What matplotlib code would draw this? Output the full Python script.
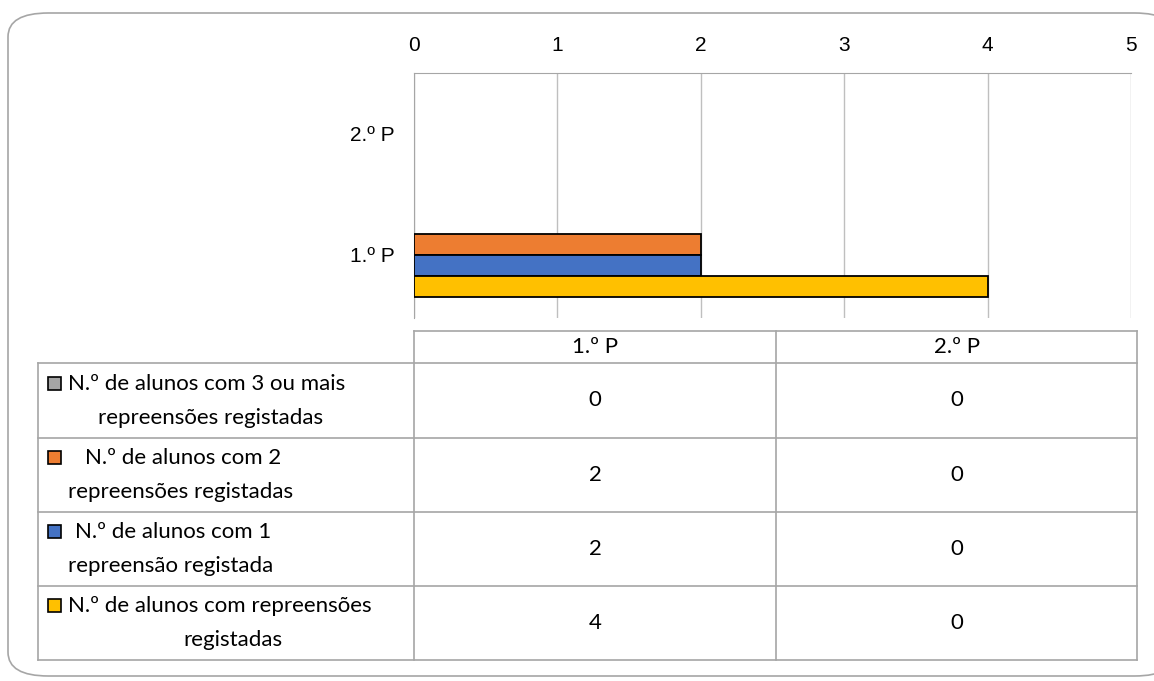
import matplotlib.pyplot as plt
from matplotlib.patches import FancyBboxPatch, Rectangle
from matplotlib.lines import Line2D

# data
periods = ['1.º P', '2.º P']
series_labels = [
    'N.º de alunos com 3 ou mais\nrepreensões registadas',
    'N.º de alunos com 2\nrepreensões registadas',
    'N.º de alunos com 1\nrepreensão registada',
    'N.º de alunos com repreensões\nregistadas',
]
values_3plus = [0, 0]
values_2 = [2, 0]
values_1 = [2, 0]
values_total = [4, 0]
colors = ['#A5A5A5', '#ED7D31', '#4472C4', '#FFC000']
x_ticks = [0, 1, 2, 3, 4, 5]

all_values = [values_3plus, values_2, values_1, values_total]

W, H = 1154, 681
fig = plt.figure(figsize=(W / 100, H / 100), dpi=100)

def fx(px):
    return px / W

def fy(py):
    return 1 - py / H

# rounded frame
frame = FancyBboxPatch((fx(8), fy(676)), fx(1175) - fx(8), fy(13) - fy(676),
                       boxstyle='round,pad=0,rounding_size=0.035',
                       transform=fig.transFigure, facecolor='white',
                       edgecolor='#A6A6A6', linewidth=1.2, zorder=-5)
fig.patches.append(frame)

# bar chart
ax = fig.add_axes([fx(414), fy(318), fx(1131) - fx(414), fy(73) - fy(318)])
ax.set_facecolor('none')
ax.set_zorder(2)
h = 0.172
offsets = [1.5 * h, 0.5 * h, -0.5 * h, -1.5 * h]
ypos = list(range(len(periods)))
for vals, col, off in zip(all_values, colors, offsets):
    ax.barh([y + off for y in ypos], vals, height=h, color=col,
            edgecolor='black', linewidth=[1.3 if v > 0 else 0 for v in vals],
            zorder=3)

ax.set_xlim(0, 5)
ax.set_ylim(-0.52, 1.5)
ax.xaxis.tick_top()
ax.set_xticks(x_ticks)
ax.set_xticklabels([str(t) for t in x_ticks], fontsize=15, family='Liberation Sans')
ax.set_yticks(ypos)
ax.set_yticklabels(periods, fontsize=15, family='Liberation Sans')
ax.tick_params(axis='x', length=0, pad=13)
ax.tick_params(axis='y', length=0, pad=14)
ax.grid(axis='x', color='#BFBFBF', linewidth=1, zorder=0)
for s in ['right', 'bottom']:
    ax.spines[s].set_visible(False)
ax.spines['left'].set_color('#A6A6A6')
ax.spines['top'].set_color('#A6A6A6')

# data table
line_kw = dict(color='#A6A6A6', linewidth=1.2, transform=fig.transFigure)
x_left, x_c0, x_c1, x_right = 38, 414, 776, 1137
y_head, y_rows = 331, [363, 438, 512, 586, 660]

fig.add_artist(Line2D([fx(x_c0), fx(x_right)], [fy(y_head), fy(y_head)], **line_kw))
for xv in [x_c0, x_c1, x_right]:
    fig.add_artist(Line2D([fx(xv), fx(xv)], [fy(y_head), fy(y_rows[-1])], **line_kw))
fig.add_artist(Line2D([fx(x_left), fx(x_left)], [fy(y_rows[0]), fy(y_rows[-1])], **line_kw))
for yv in y_rows:
    fig.add_artist(Line2D([fx(x_left), fx(x_right)], [fy(yv), fy(yv)], **line_kw))

tfont = dict(family='Lato', fontsize=16)
for p, xa, xb in zip(periods, [x_c0, x_c1], [x_c1, x_right]):
    fig.text(fx((xa + xb) / 2), fy((y_head + y_rows[0]) / 2), p,
             ha='center', va='center', **tfont)

# where each wrapped legend line starts (px)
line1_x = [68, 85, 75, 68]
line2_x = [98, 68, 68, 183]
for i, (lab, vals, col) in enumerate(zip(series_labels, all_values, colors)):
    ya, yb = y_rows[i], y_rows[i + 1]
    ym = (ya + yb) / 2
    fig.patches.append(Rectangle((fx(48), fy(ym - 11)), fx(13), fy(0) - fy(13),
                                 transform=fig.transFigure, facecolor=col,
                                 edgecolor='black', linewidth=1.2))
    first, second = lab.split('\n')
    fig.text(fx(line1_x[i]), fy(ym - 17), first, ha='left', va='center', **tfont)
    fig.text(fx(line2_x[i]), fy(ym + 17), second, ha='left', va='center', **tfont)
    for v, xa, xb in zip(vals, [x_c0, x_c1], [x_c1, x_right]):
        fig.text(fx((xa + xb) / 2), fy(ym), str(v), ha='center', va='center', **tfont)

fig.savefig('out.png', dpi=100)
